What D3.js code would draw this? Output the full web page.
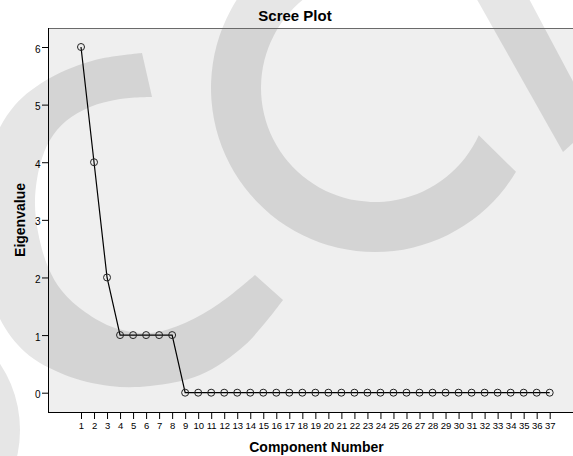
<!DOCTYPE html>
<html>
<head>
<meta charset="utf-8">
<script src="https://cdn.jsdelivr.net/npm/d3@7"></script>
<style>
  html, body { margin: 0; padding: 0; background: #fff; }
  svg { display: block; }
  text { font-family: "Liberation Sans", Arial, sans-serif; }
</style>
</head>
<body>
<script>
// ---- data ----
const components = [1,2,3,4,5,6,7,8,9,10,11,12,13,14,15,16,17,18,19,20,21,22,23,24,25,26,27,28,29,30,31,32,33,34,35,36,37];
const eigenvalues = [6,4,2,1,1,1,1,1,0,0,0,0,0,0,0,0,0,0,0,0,0,0,0,0,0,0,0,0,0,0,0,0,0,0,0,0,0];
const yTicks = [0,1,2,3,4,5,6];
const title = "Scree Plot";
const xTitle = "Component Number";
const yTitle = "Eigenvalue";

// ---- layout ----
const W = 573, H = 456;
const plot = { left: 48, top: 28, right: 590, bottom: 412 };

const svg = d3.select("body").append("svg").attr("width", W).attr("height", H);
svg.append("rect").attr("width", W).attr("height", H).attr("fill", "#fff");

const x = d3.scaleLinear().domain([1, 37]).range([81, 549.7]);
const y = d3.scaleLinear().domain([0, 6]).range([392.7, 47]);

// ---- background watermark (decoration only) ----
function ringPath(cx, cy, rIn, rOut, aOut0, aOut1, aIn0, aIn1) {
  const p = d3.path();
  const c = a => a - Math.PI / 2;
  p.moveTo(cx + rOut * Math.sin(aOut0), cy - rOut * Math.cos(aOut0));
  p.arc(cx, cy, rOut, c(aOut0), c(aOut1), true);
  p.lineTo(cx + rIn * Math.sin(aIn0), cy - rIn * Math.cos(aIn0));
  p.arc(cx, cy, rIn, c(aIn0), c(aIn1), false);
  p.closePath();
  return p.toString();
}
function bandPath(outer, inner) {
  const ln = d3.line().curve(d3.curveCatmullRom.alpha(0.5));
  return ln(outer) + ln(inner).replace(/^M/, "L") + "Z";
}
const TWO_PI = Math.PI * 2;
const c1Outer = [[142,53],[95,60],[50,78],[15,105],[-8,145],[-20,200],[-18,255],[-2,315],[25,352],[65,375],[110,386],[150,386],[200,375],[245,345],[283,300]];
const c1Inner = [[255,275],[220,303],[185,323],[150,333],[115,328],[85,312],[62,291],[48,267],[38,232],[35,200],[40,165],[50,140],[66,121],[90,107],[120,99],[152,97]];
const wmPaths = [
  bandPath(c1Outer, c1Inner),
  ringPath(375, 88, 114, 164, -0.5, 2.107 - TWO_PI, 1.997 - TWO_PI, -0.5),
  "M466,-20L519,-20L595,123L563,152Z",
  d3.arc()({ innerRadius: 0, outerRadius: 120, startAngle: 0, endAngle: TWO_PI })
];
function drawWatermark(g, fill) {
  wmPaths.forEach((d, i) => {
    const el = g.append("path").attr("d", d).attr("fill", fill);
    if (i === 3) el.attr("transform", "translate(-100,430)");
  });
}
drawWatermark(svg.append("g"), "#e6e6e6");

// plot background
svg.append("defs").append("clipPath").attr("id", "plotClip")
  .append("rect").attr("x", plot.left).attr("y", plot.top)
  .attr("width", plot.right - plot.left).attr("height", plot.bottom - plot.top);
svg.append("rect").attr("x", plot.left).attr("y", plot.top)
  .attr("width", plot.right - plot.left).attr("height", plot.bottom - plot.top)
  .attr("fill", "#efefef");
drawWatermark(svg.append("g").attr("clip-path", "url(#plotClip)"), "#d4d4d4");

// ---- axes ----
const yAxis = d3.axisLeft(y).tickValues(yTicks).tickSize(6).tickPadding(1.5).tickFormat(d3.format("d"));
const gy = svg.append("g").attr("transform", `translate(${plot.left},0)`).call(yAxis);
gy.select(".domain").remove();
gy.selectAll(".tick line").attr("stroke", "#000");
gy.selectAll(".tick text").attr("font-size", "10px").attr("fill", "#000")
  .attr("font-family", "'Liberation Sans', Arial, sans-serif").attr("dy", "0.5em");

const xAxis = d3.axisBottom(x).tickValues(components).tickSize(7).tickPadding(3.5).tickFormat(d3.format("d"));
const gx = svg.append("g").attr("transform", `translate(0,${plot.bottom})`).call(xAxis);
gx.select(".domain").remove();
gx.selectAll(".tick line").attr("stroke", "#000");
gx.selectAll(".tick text").attr("font-size", "9.5px").attr("fill", "#000")
  .attr("font-family", "'Liberation Sans', Arial, sans-serif");

// frame lines
svg.append("line").attr("x1", plot.left).attr("x2", W + 5).attr("y1", plot.top + 0.5).attr("y2", plot.top + 0.5)
  .attr("stroke", "#6a6a6a").attr("stroke-width", 1);
svg.append("line").attr("x1", plot.left + 0.5).attr("x2", plot.left + 0.5).attr("y1", plot.top).attr("y2", plot.bottom)
  .attr("stroke", "#000").attr("stroke-width", 1);
svg.append("line").attr("x1", plot.left).attr("x2", W + 5).attr("y1", plot.bottom + 0.5).attr("y2", plot.bottom + 0.5)
  .attr("stroke", "#000").attr("stroke-width", 1);

// ---- data line and markers ----
const pts = components.map((c, i) => [c, eigenvalues[i]]);
svg.append("path").datum(pts)
  .attr("d", d3.line().x(d => x(d[0])).y(d => y(d[1])))
  .attr("fill", "none").attr("stroke", "#000").attr("stroke-width", 1.2);
svg.append("g").selectAll("circle").data(pts).join("circle")
  .attr("cx", d => x(d[0])).attr("cy", d => y(d[1])).attr("r", 3.5)
  .attr("fill", "none").attr("stroke", "#222").attr("stroke-width", 1);

// ---- titles ----
svg.append("text").attr("x", 295).attr("y", 21).attr("text-anchor", "middle")
  .attr("font-size", "15px").attr("font-weight", "bold").attr("fill", "#000").text(title);
svg.append("text").attr("x", 316.5).attr("y", 452).attr("text-anchor", "middle")
  .attr("font-size", "14px").attr("font-weight", "bold").attr("fill", "#000").text(xTitle);
svg.append("text").attr("transform", "translate(25,220) rotate(-90)").attr("text-anchor", "middle")
  .attr("font-size", "14px").attr("font-weight", "bold").attr("fill", "#000").text(yTitle);
</script>
</body>
</html>
